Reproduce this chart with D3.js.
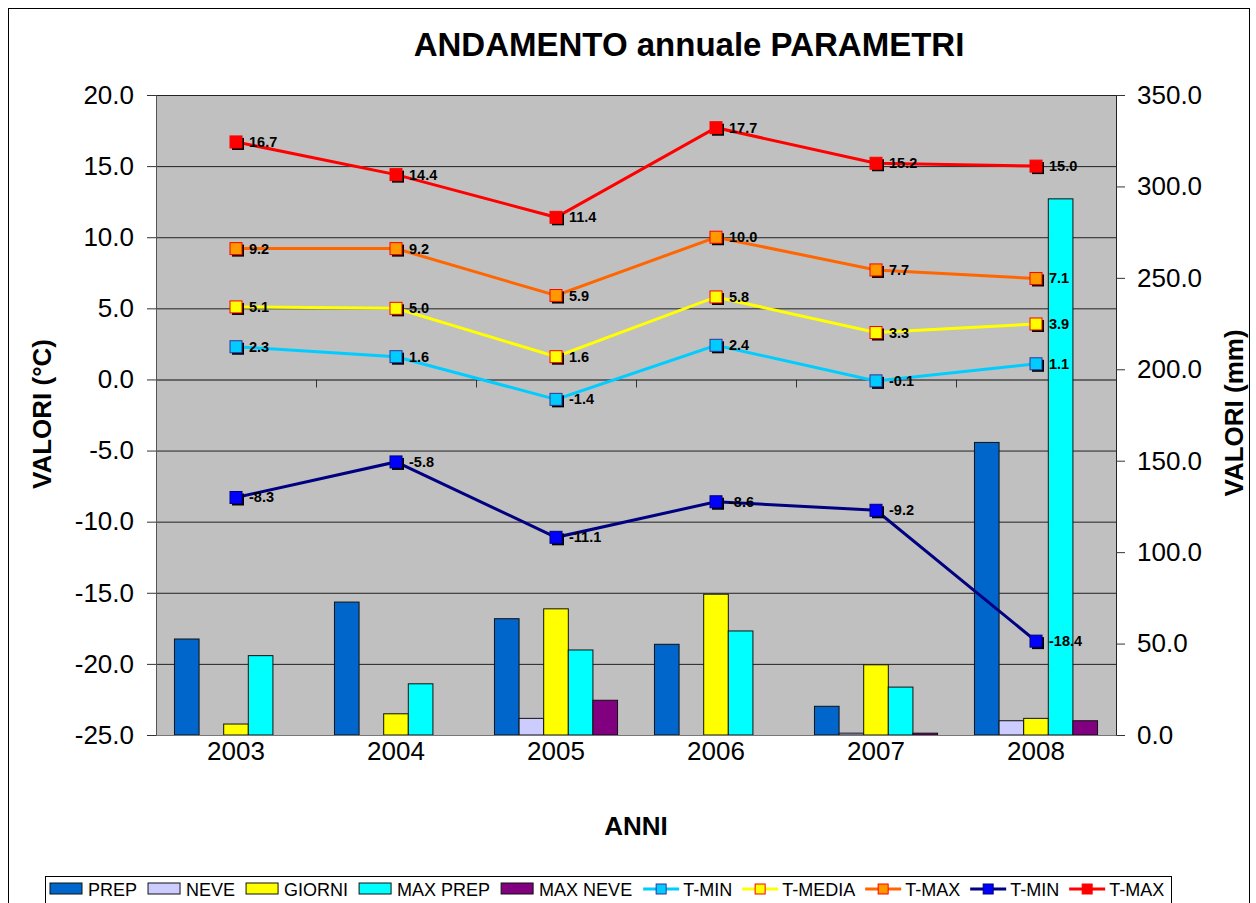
<!DOCTYPE html>
<html>
<head>
<meta charset="utf-8">
<script src="https://cdn.jsdelivr.net/npm/d3@7"></script>
<style>
  body { margin: 0; background: #fff; }
  svg { font-family: "Liberation Sans", Arial, sans-serif; }
</style>
</head>
<body>
<svg id="drawspace" width="1256" height="903"></svg>
<script>
// anni (categorie)
const years = ["2003", "2004", "2005", "2006", "2007", "2008"];

// barre, asse destro (mm)
const prep    = [52.5, 72.7, 63.6, 49.6, 15.7, 160.0];
const neve    = [0, 0, 9.1, 0, 1.0, 7.8];
const giorni  = [6.0, 11.6, 69.0, 77.0, 38.4, 9.1];
const maxPrep = [43.4, 28.0, 46.5, 56.9, 26.2, 293.2];
const maxNeve = [0, 0, 19.0, 0, 1.0, 7.8];

// linee, asse sinistro (°C)
const tMinMedia = [2.3, 1.6, -1.4, 2.4, -0.1, 1.1];
const tMedia    = [5.1, 5.0, 1.6, 5.8, 3.3, 3.9];
const tMaxMedia = [9.2, 9.2, 5.9, 10.0, 7.7, 7.1];
const tMinAss   = [-8.3, -5.8, -11.1, -8.6, -9.2, -18.4];
const tMaxAss   = [16.7, 14.4, 11.4, 17.7, 15.2, 15.0];

const leftTicks = [-25, -20, -15, -10, -5, 0, 5, 10, 15, 20];
const rightTicks = [0, 50, 100, 150, 200, 250, 300, 350];

const barSeries = [
  { name: "PREP", values: prep, fill: "#0066CC" },
  { name: "NEVE", values: neve, fill: "#CCCCFF" },
  { name: "GIORNI", values: giorni, fill: "#FFFF00" },
  { name: "MAX PREP", values: maxPrep, fill: "#00FFFF" },
  { name: "MAX NEVE", values: maxNeve, fill: "#800080" }
];

const lineSeries = [
  { name: "T-MIN", values: tMinMedia, line: "#00CCFF", fill: "#00CCFF", border: "#333399" },
  { name: "T-MEDIA", values: tMedia, line: "#FFFF00", fill: "#FFFF00", border: "#FF0000" },
  { name: "T-MAX", values: tMaxMedia, line: "#FF6600", fill: "#FF9900", border: "#FF0000" },
  { name: "T-MIN", values: tMinAss, line: "#000080", fill: "#0000FF", border: "#000080" },
  { name: "T-MAX", values: tMaxAss, line: "#FF0000", fill: "#FF0000", border: "#FF0000" }
];

const fmt = (v) => v.toFixed(1);

const svg = d3.select("#drawspace");
const plotL = 156, plotR = 1116, plotT = 95, plotB = 735;

// bordo grafico
svg.append("rect")
  .attr("x", 8.5).attr("y", 8.5)
  .attr("width", 1241).attr("height", 900)
  .attr("fill", "#fff").attr("stroke", "#000");

svg.append("text")
  .attr("x", 689).attr("y", 56)
  .attr("text-anchor", "middle")
  .attr("font-size", "33px")
  .attr("font-weight", "bold")
  .text("ANDAMENTO annuale PARAMETRI");

var xScale = d3.scaleBand().domain(years).range([plotL, plotR]);
var yLeft = d3.scaleLinear().domain([-25, 20]).range([plotB, plotT]);
var yRight = d3.scaleLinear().domain([0, 350]).range([plotB, plotT]);

const bw = xScale.bandwidth() / 6.5;
var xInner = d3.scaleBand()
  .domain(barSeries.map((s) => s.name))
  .range([bw * 0.75, bw * 5.75]);

// area del grafico
svg.append("rect")
  .attr("x", plotL).attr("y", plotT)
  .attr("width", plotR - plotL).attr("height", plotB - plotT)
  .attr("fill", "#C0C0C0");

svg.append("g")
  .selectAll("line")
  .data(leftTicks)
  .enter()
  .append("line")
  .attr("x1", plotL).attr("x2", plotR)
  .attr("y1", (d) => yLeft(d) + 0.5).attr("y2", (d) => yLeft(d) + 0.5)
  .attr("stroke", (d) => (d === 0 ? "#666" : "#222"))
  .attr("stroke-width", (d) => (d === 0 ? 2 : 1));

// barre
var groups = svg.append("g")
  .selectAll("g")
  .data(barSeries)
  .enter()
  .append("g")
  .attr("fill", (s) => s.fill);

groups.selectAll("rect")
  .data((s) => s.values.map((v, i) => ({ name: s.name, year: years[i], v: v })).filter((d) => d.v > 0))
  .enter()
  .append("rect")
  .attr("x", (d) => xScale(d.year) + xInner(d.name))
  .attr("y", (d) => yRight(d.v))
  .attr("width", xInner.bandwidth())
  .attr("height", (d) => yRight(0) - yRight(d.v))
  .attr("stroke", "#111")
  .attr("stroke-width", 1);

// asse orizzontale a 0 con tacche tra le categorie
const boundaries = years.map((y) => xScale(y)).concat([plotR]);
svg.append("g")
  .selectAll("line")
  .data(boundaries)
  .enter()
  .append("line")
  .attr("x1", (d) => Math.round(d) + 0.5).attr("x2", (d) => Math.round(d) + 0.5)
  .attr("y1", yLeft(0)).attr("y2", yLeft(0) + 8)
  .attr("stroke", "#333");

// linee
lineSeries.forEach((s) => {
  const pts = s.values.map((v, i) => [xScale(years[i]) + xScale.bandwidth() / 2, yLeft(v)]);
  svg.append("path")
    .attr("d", d3.line()(pts))
    .attr("fill", "none")
    .attr("stroke", s.line)
    .attr("stroke-width", 3);

  var m = svg.append("g").selectAll("g").data(pts).enter().append("g");
  m.append("rect")
    .attr("x", (p) => p[0] - 4).attr("y", (p) => p[1] - 4)
    .attr("width", 12).attr("height", 12)
    .attr("fill", "#000");
  m.append("rect")
    .attr("x", (p) => p[0] - 6).attr("y", (p) => p[1] - 6)
    .attr("width", 12).attr("height", 12)
    .attr("fill", s.fill)
    .attr("stroke", s.border)
    .attr("stroke-width", 1);
  m.append("text")
    .attr("x", (p) => p[0] + 13)
    .attr("y", (p) => p[1] + 5)
    .attr("font-size", "14.5px")
    .attr("font-weight", "bold")
    .text((p, i) => fmt(s.values[i]));
});

// assi
var axL = svg.append("g")
  .attr("transform", "translate(" + plotL + ",0)")
  .call(d3.axisLeft(yLeft).tickValues(leftTicks).tickFormat(fmt).tickSize(9).tickPadding(13));
var axR = svg.append("g")
  .attr("transform", "translate(" + plotR + ",0)")
  .call(d3.axisRight(yRight).tickValues(rightTicks).tickFormat(fmt).tickSize(9).tickPadding(12));
var axB = svg.append("g")
  .attr("transform", "translate(0," + plotB + ")")
  .call(d3.axisBottom(xScale).tickSize(0).tickPadding(7));

[axL, axR, axB].forEach((a) => {
  a.selectAll("text").attr("font-size", "26px").attr("fill", "#000")
    .attr("font-family", '"Liberation Sans", Arial, sans-serif');
  a.selectAll("line").attr("stroke", "#333");
});
axL.select(".domain").attr("stroke", "#555");
axR.select(".domain").attr("stroke", "#222");
axB.select(".domain").attr("stroke", "#777");

svg.append("text")
  .attr("x", 636).attr("y", 835)
  .attr("text-anchor", "middle")
  .attr("font-size", "26px")
  .attr("font-weight", "bold")
  .text("ANNI");

svg.append("text")
  .attr("transform", "translate(51,414) rotate(-90)")
  .attr("text-anchor", "middle")
  .attr("font-size", "26px")
  .attr("font-weight", "bold")
  .text("VALORI (°C)");

svg.append("text")
  .attr("transform", "translate(1243,413) rotate(-90)")
  .attr("text-anchor", "middle")
  .attr("font-size", "26px")
  .attr("font-weight", "bold")
  .text("VALORI (mm)");

// legenda
var legend = svg.append("g");
legend.append("rect")
  .attr("x", 45.5).attr("y", 876.5)
  .attr("width", 1126).attr("height", 40)
  .attr("fill", "#fff").attr("stroke", "#000");

let lx = 50;
const ly = 889;
barSeries.forEach((s) => {
  legend.append("rect")
    .attr("x", lx).attr("y", ly - 6)
    .attr("width", 32).attr("height", 11)
    .attr("fill", s.fill).attr("stroke", "#111");
  const t = legend.append("text")
    .attr("x", lx + 38).attr("y", ly + 6.5)
    .attr("font-size", "18px")
    .text(s.name);
  lx += 38 + t.node().getComputedTextLength() + 11;
});
lineSeries.forEach((s) => {
  legend.append("line")
    .attr("x1", lx).attr("x2", lx + 36)
    .attr("y1", ly).attr("y2", ly)
    .attr("stroke", s.line).attr("stroke-width", 3);
  legend.append("rect")
    .attr("x", lx + 13).attr("y", ly - 5)
    .attr("width", 10).attr("height", 10)
    .attr("fill", s.fill).attr("stroke", s.border);
  const t = legend.append("text")
    .attr("x", lx + 40).attr("y", ly + 6.5)
    .attr("font-size", "18px")
    .text(s.name);
  lx += 40 + t.node().getComputedTextLength() + 10;
});
</script>
</body>
</html>
